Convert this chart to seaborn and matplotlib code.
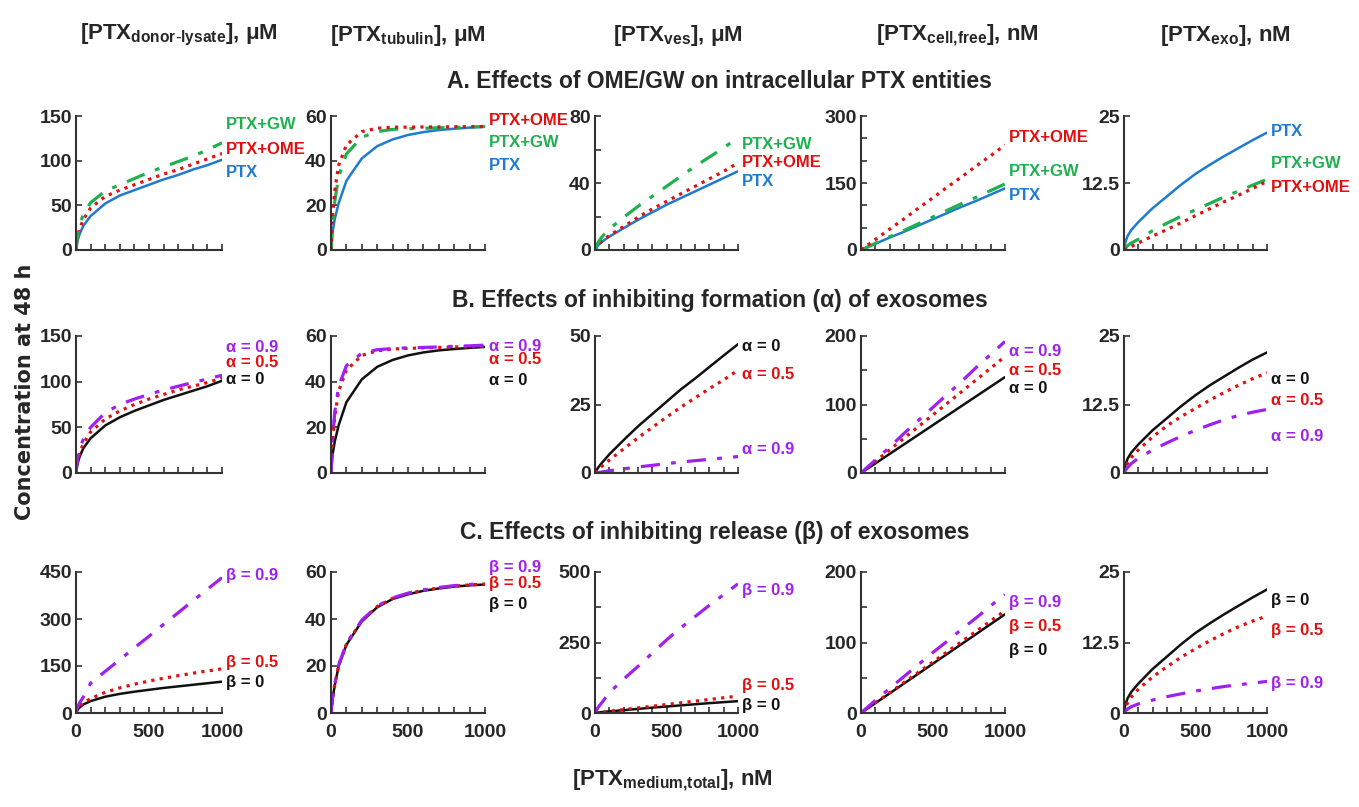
import matplotlib
matplotlib.use("Agg")
import matplotlib.pyplot as plt
from matplotlib import font_manager as fm
import seaborn as sns

sns.set_theme(style="white")

_names = {f.name for f in fm.fontManager.ttflist}
NARROW = "Liberation Sans Narrow" if "Liberation Sans Narrow" in _names else "Liberation Sans"
plt.rcParams["font.family"] = [NARROW, "DejaVu Sans"]
plt.rcParams["mathtext.default"] = "regular"

# ---------------- data ----------------
X_NM = [0, 10, 25, 50, 100, 200, 300, 400, 500, 600, 700, 800, 900, 1000]

# A. OME / GW
donor_ptx = [0, 10, 18, 27, 38, 52, 61, 67, 73, 79, 84, 90, 95, 101]
donor_ome = [0, 13, 24, 34, 47, 60, 67, 73, 79, 85, 90, 96, 102, 108]
donor_gw = [0, 15, 28, 40, 53, 66, 73, 80, 87, 93, 99, 105, 112, 120]
tub_ptx = [0, 8, 14, 21, 31, 41, 46.5, 49.5, 51.5, 52.8, 53.7, 54.3, 54.8, 55.2]
tub_ome = [0, 15, 27, 38, 47, 53, 54.5, 55, 55, 55.1, 55.1, 55.2, 55.2, 55.3]
tub_gw = [0, 12, 22, 33, 43, 50.5, 53, 54, 54.3, 54.5, 54.7, 54.9, 55.1, 55.3]
ves_ptx = [0, 1.5, 3, 5, 8, 13, 18, 22.5, 27, 31, 35, 39, 43, 47]
ves_ome = [0, 1.5, 3.2, 5.5, 8.7, 14, 19.5, 24.5, 29, 33.5, 38, 42.5, 47, 52]
ves_gw = [0, 2.5, 5, 8, 12.5, 19.5, 26, 32, 38, 44, 50, 55.5, 61, 67]
cf_ptx = [0, 1.4, 3.5, 7, 14, 28, 41, 55, 69, 83, 97, 110, 124, 138]
cf_gw = [0, 1.5, 3.7, 7.4, 15, 30, 44, 59, 74, 89, 104, 118, 133, 148]
cf_ome = [0, 2.3, 5.9, 12, 23.5, 47, 70, 94, 117, 141, 164, 188, 211, 235]
exo_ptx = [0, 1.5, 2.6, 3.7, 5.2, 7.8, 10, 12.2, 14.2, 15.9, 17.5, 19, 20.5, 21.9]
exo_gw = [0, 0.3, 0.8, 1.3, 2, 3.6, 5, 6.3, 7.5, 8.7, 9.9, 11, 12.1, 13.2]
exo_ome = [0, 0.13, 0.32, 0.64, 1.3, 2.6, 3.8, 5.1, 6.4, 7.7, 9, 10.2, 11.5, 12.8]

# B. formation (alpha)
donor_a0 = [0, 10, 18, 27, 38, 52, 61, 68, 74, 80, 85, 90, 95, 101]
donor_a5 = [0, 12, 22, 32, 45, 59, 68, 75, 81, 86, 91, 95, 99, 104]
donor_a9 = [0, 14, 26, 37, 50, 66, 75, 81, 86, 91, 95, 99, 103, 107]
tub_a0 = [0, 8, 14, 21, 31, 41, 46.5, 49.5, 51.5, 52.8, 53.7, 54.3, 54.8, 55.2]
tub_a5 = [0, 14, 25, 36, 45, 51.5, 53.5, 54.3, 54.6, 54.8, 55, 55.2, 55.3, 55.5]
tub_a9 = [0, 15, 27, 38, 47, 52.5, 54, 54.5, 54.8, 55, 55.2, 55.5, 55.7, 56]
ves_a0 = [0, 1, 2.2, 3.8, 6.8, 12, 17, 21.5, 26, 30.5, 34.5, 38.7, 42.9, 47]
ves_a5 = [0, 0.6, 1.4, 2.6, 4.7, 8.8, 12.8, 16.6, 20.4, 24, 27.4, 30.8, 34, 37.5]
ves_a9 = [0, 0.1, 0.2, 0.4, 0.8, 1.5, 2.2, 2.8, 3.4, 4, 4.5, 5, 5.5, 6]
cf_a0 = [0, 1.4, 3.5, 7, 14, 28, 42, 56, 70, 84, 98, 112, 126, 140]
cf_a5 = [0, 1.7, 4.3, 8.5, 17, 34, 51, 68, 85, 102, 119, 136, 153, 170]
cf_a9 = [0, 1.9, 4.8, 9.6, 19, 38, 58, 77, 96, 115, 134, 154, 173, 192]
exo_a0 = [0, 1.5, 2.6, 3.7, 5.2, 7.8, 10, 12.2, 14.2, 16, 17.6, 19.2, 20.7, 22]
exo_a5 = [0, 1, 1.8, 2.8, 4.2, 6.6, 8.6, 10.3, 11.8, 13.3, 14.7, 16, 17.2, 18.3]
exo_a9 = [0, 0.5, 1, 1.7, 2.7, 4.2, 5.5, 6.7, 7.8, 8.8, 9.7, 10.5, 11.1, 11.6]

# C. release (beta)
donor_b0 = [0, 10, 18, 27, 38, 52, 61, 68, 74, 80, 85, 90, 95, 100]
donor_b5 = [0, 12, 22, 32, 46, 66, 80, 92, 102, 111, 119, 127, 134, 141]
donor_b9 = [0, 18, 33, 51, 95, 133, 170, 208, 245, 283, 320, 358, 395, 432]
tub_b0 = [0, 6, 12, 20, 29, 39, 45, 48.5, 50.5, 52, 53, 53.8, 54.3, 54.7]
tub_b5 = [0, 6.2, 12.3, 20.3, 29.3, 39.3, 45.3, 48.8, 50.8, 52.2, 53.2, 54, 54.5, 54.9]
tub_b9 = [0, 6.3, 12.5, 20.5, 29.5, 39.5, 45.5, 49, 51, 52.4, 53.4, 54.2, 54.7, 55.1]
ves_b0 = [0, 0.8, 1.8, 3.2, 5.8, 10, 14.5, 19, 23, 27, 31, 35, 38.5, 42]
ves_b5 = [0, 0.6, 1.5, 3, 6, 12, 18, 24, 30, 36, 42, 48, 54, 60]
ves_b9 = [0, 10, 22, 38, 72, 120, 165, 212, 259, 302, 342, 382, 420, 458]
cf_b0 = [0, 1.4, 3.5, 7, 14, 28, 42, 56, 70, 84, 98, 112, 126, 140]
cf_b5 = [0, 1.5, 3.6, 7.3, 14.5, 29, 43.5, 58, 72.5, 87, 101.5, 116, 130.5, 145]
cf_b9 = [0, 1.9, 4.6, 9, 18, 35, 52, 69, 86, 102, 119, 135, 152, 168]
exo_b0 = [0, 1.5, 2.6, 3.7, 5.2, 7.8, 10, 12.2, 14.2, 15.9, 17.5, 19, 20.5, 21.9]
exo_b5 = [0, 1, 1.8, 2.8, 4.2, 6.4, 8.2, 9.9, 11.4, 12.8, 14.1, 15.3, 16.3, 17.2]
exo_b9 = [0, 0.4, 0.7, 1.1, 1.6, 2.3, 2.9, 3.4, 3.9, 4.3, 4.7, 5, 5.3, 5.6]

COL_HEADERS = [r"[PTX$_{donor\text{-}lysate}$], μM", r"[PTX$_{tubulin}$], μM",
               r"[PTX$_{ves}$], μM", r"[PTX$_{cell{,}free}$], nM", r"[PTX$_{exo}$], nM"]
ROW_TITLES = ["A. Effects of OME/GW on intracellular PTX entities",
              "B. Effects of inhibiting formation (α) of exosomes",
              "C. Effects of inhibiting release (β) of exosomes"]

# ---------------- styles ----------------
BLUE, GREEN, RED, PURPLE, BLACK = "#1f7ad0", "#1fb14f", "#e01010", "#a020f0", "#111111"
DASHDOT = (0, (6, 3.5, 1.5, 3.5))
STY = {
    "PTX": (BLUE, "-"), "PTX+OME": (RED, ":"), "PTX+GW": (GREEN, DASHDOT),
    "a0": (BLACK, "-"), "a5": (RED, ":"), "a9": (PURPLE, DASHDOT),
}

# (series, label text, label y) per panel
PANELS = [
    [
        [("PTX", donor_ptx, "PTX", 87), ("PTX+OME", donor_ome, "PTX+OME", 112), ("PTX+GW", donor_gw, "PTX+GW", 140)],
        [("PTX", tub_ptx, "PTX", 38), ("PTX+GW", tub_gw, "PTX+GW", 48), ("PTX+OME", tub_ome, "PTX+OME", 58)],
        [("PTX", ves_ptx, "PTX", 41), ("PTX+OME", ves_ome, "PTX+OME", 52), ("PTX+GW", ves_gw, "PTX+GW", 63)],
        [("PTX", cf_ptx, "PTX", 123), ("PTX+GW", cf_gw, "PTX+GW", 175), ("PTX+OME", cf_ome, "PTX+OME", 251)],
        [("PTX", exo_ptx, "PTX", 22.2), ("PTX+GW", exo_gw, "PTX+GW", 16.2), ("PTX+OME", exo_ome, "PTX+OME", 11.6)],
    ],
    [
        [("a0", donor_a0, "α = 0", 102), ("a5", donor_a5, "α = 0.5", 121), ("a9", donor_a9, "α = 0.9", 137)],
        [("a0", tub_a0, "α = 0", 40.7), ("a5", tub_a5, "α = 0.5", 49.5), ("a9", tub_a9, "α = 0.9", 55.6)],
        [("a0", ves_a0, "α = 0", 46), ("a5", ves_a5, "α = 0.5", 36), ("a9", ves_a9, "α = 0.9", 8.4)],
        [("a0", cf_a0, "α = 0", 124), ("a5", cf_a5, "α = 0.5", 150), ("a9", cf_a9, "α = 0.9", 177)],
        [("a0", exo_a0, "α = 0", 17), ("a5", exo_a5, "α = 0.5", 13.3), ("a9", exo_a9, "α = 0.9", 6.6)],
    ],
    [
        [("a0", donor_b0, "β = 0", 96), ("a5", donor_b5, "β = 0.5", 160), ("a9", donor_b9, "β = 0.9", 440)],
        [("a0", tub_b0, "β = 0", 46), ("a5", tub_b5, "β = 0.5", 55), ("a9", tub_b9, "β = 0.9", 62)],
        [("a0", ves_b0, "β = 0", 28), ("a5", ves_b5, "β = 0.5", 99), ("a9", ves_b9, "β = 0.9", 436)],
        [("a0", cf_b0, "β = 0", 89), ("a5", cf_b5, "β = 0.5", 122), ("a9", cf_b9, "β = 0.9", 157)],
        [("a0", exo_b0, "β = 0", 20), ("a5", exo_b5, "β = 0.5", 14.7), ("a9", exo_b9, "β = 0.9", 5.3)],
    ],
]

# y axis: (top, major ticks, minor ticks)
YAXES = [
    [(150, [0, 50, 100, 150], []), (60, [0, 20, 40, 60], []), (80, [0, 40, 80], [20, 60]),
     (300, [0, 150, 300], [50, 100, 200, 250]), (25, [0, 12.5, 25], [])],
    [(150, [0, 50, 100, 150], []), (60, [0, 20, 40, 60], []), (50, [0, 25, 50], []),
     (200, [0, 100, 200], [50, 150]), (25, [0, 12.5, 25], [])],
    [(450, [0, 150, 300, 450], []), (60, [0, 20, 40, 60], []), (500, [0, 250, 500], [125, 375]),
     (200, [0, 100, 200], [50, 150]), (25, [0, 12.5, 25], [])],
]

# ---------------- layout (pixels of the 1359x807 reference) ----------------
W, H = 1359, 807
COL_X = [(76, 146), (331, 154), (595, 143), (861, 144), (1124, 143)]
ROW_Y = [(116, 250), (336, 473), (572, 713)]

fig = plt.figure(figsize=(W / 100, H / 100), dpi=100)
fig.patch.set_facecolor("white")

for r in range(3):
    for c in range(5):
        x0, w = COL_X[c]
        top, bot = ROW_Y[r]
        ax = fig.add_axes([x0 / W, 1 - bot / H, w / W, (bot - top) / H])
        ax.set_facecolor("white")
        for key, vals, lab, ly in PANELS[r][c]:
            color, ls = STY[key]
            lw = 1.8 if ls == "-" else 2.3
            sns.lineplot(x=X_NM, y=vals, ax=ax, color=color, linestyle=ls, linewidth=lw)
            ax.text(1025, ly, lab, color=color, fontsize=12, fontweight="bold",
                    ha="left", va="center", clip_on=False)
        ymax, major, minor = YAXES[r][c]
        ax.set_xlim(0, 1000)
        ax.set_ylim(0, ymax)
        ax.set_yticks(major)
        ax.set_yticklabels([f"{v:g}" for v in major], fontsize=14, fontweight="bold")
        ax.set_yticks(minor, minor=True)
        ax.set_xticks([0, 500, 1000])
        ax.set_xticks(range(0, 1001, 100), minor=True)
        if r == 2:
            ax.set_xticklabels(["0", "500", "1000"], fontsize=14, fontweight="bold")
        else:
            ax.set_xticklabels([])
        ax.tick_params(which="both", direction="in", length=4, width=1.2, color="#333333",
                       left=True, bottom=True, pad=3)
        ax.tick_params(axis="x", which="major", pad=8)
        for s in ("top", "right"):
            ax.spines[s].set_visible(False)
        for s in ("left", "bottom"):
            ax.spines[s].set_color("#333333")
            ax.spines[s].set_linewidth(1.5)
        ax.grid(False)

HEAD_X = [179, 408, 678, 957, 1225]
for hx, txt in zip(HEAD_X, COL_HEADERS):
    fig.text(hx / W, 1 - 35 / H, txt, ha="center", va="center", fontsize=16, fontweight="bold")

for ty, (tx, txt) in zip([82, 300, 532], zip([719, 720, 715], ROW_TITLES)):
    fig.text(tx / W, 1 - ty / H, txt, ha="center", va="center", fontsize=16.5, fontweight="bold")

fig.text(672 / W, 1 - 780 / H, r"[PTX$_{medium{,}total}$], nM", ha="center", va="center",
         fontsize=16, fontweight="bold")
fig.text(25 / W, 1 - 392 / H, "Concentration at 48 h", rotation=90, ha="center", va="center",
         fontsize=15, fontweight="bold", family="DejaVu Sans")

fig.savefig("out.png", dpi=100, facecolor="white")
